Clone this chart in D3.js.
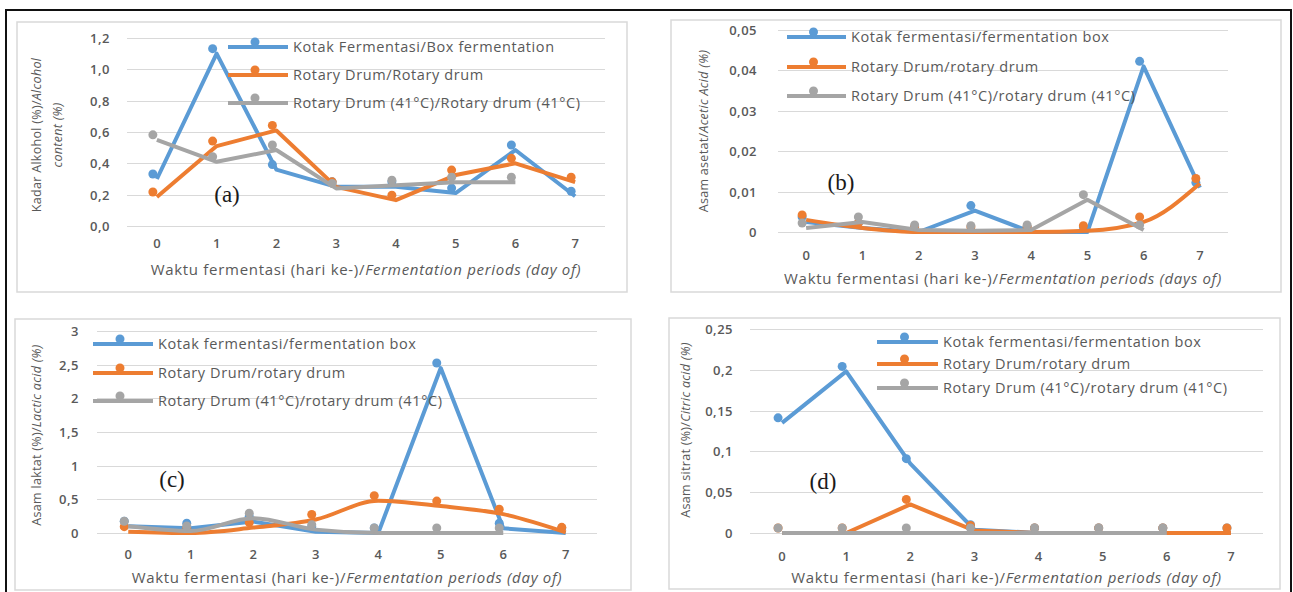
<!DOCTYPE html>
<meta charset="utf-8">
<head>
<script src="https://d3js.org/d3.v7.min.js"></script>
<style>
  body { margin: 0; background: #fff; }
  text { font-family: "Open Sans", sans-serif; fill: #595959; }
</style>
</head>
<body>
<svg id="fig" width="1293" height="592"></svg>
<script>
// days of fermentation
var days = [0, 1, 2, 3, 4, 5, 6, 7];

// (a) alcohol content (%)
var alcoholBox    = [0.30, 1.10, 0.36, 0.25, 0.25, 0.21, 0.485, 0.19];
var alcoholDrum   = [0.185, 0.51, 0.61, 0.25, 0.165, 0.325, 0.40, 0.28];
var alcoholDrum41 = [0.55, 0.41, 0.485, 0.24, 0.26, 0.28, 0.28, null];

// (b) acetic acid (%)
var aceticBox    = [0.0025, 0.001, 0, 0.0053, 0, 0, 0.041, 0.011];
var aceticDrum   = [0.003, 0.001, 0, 0, 0, 0.0003, 0.0025, 0.012];
var aceticDrum41 = [0.001, 0.0025, 0.0005, 0.0003, 0.0005, 0.008, 0.0005, null];

// (c) lactic acid (%)
var lacticBox    = [0.10, 0.07, 0.17, 0.02, 0, 2.45, 0.07, 0];
var lacticDrum   = [0.02, 0, 0.08, 0.20, 0.48, 0.40, 0.28, 0.01];
var lacticDrum41 = [0.10, 0.03, 0.22, 0.05, 0, 0, 0, null];

// (d) citric acid (%)
var citricBox    = [0.135, 0.198, 0.085, 0.004, 0, 0, 0, 0];
var citricDrum   = [0, 0, 0.035, 0.003, 0, 0, 0, 0];
var citricDrum41 = [0, 0, 0, 0, 0, 0, 0, null];

// tick labels
var ticksA = ["0,0", "0,2", "0,4", "0,6", "0,8", "1,0", "1,2"];
var ticksB = ["0", "0,01", "0,02", "0,03", "0,04", "0,05"];
var ticksC = ["0", "0,5", "1", "1,5", "2", "2,5", "3"];
var ticksD = ["0", "0,05", "0,1", "0,15", "0,2", "0,25"];

var legendA = ["Kotak Fermentasi/Box fermentation", "Rotary Drum/Rotary drum", "Rotary Drum (41\u00b0C)/Rotary drum (41\u00b0C)"];
var legendB = ["Kotak fermentasi/fermentation box", "Rotary Drum/rotary drum", "Rotary Drum (41\u00b0C)/rotary drum (41\u00b0C)"];

var colors = ["#5b9bd5", "#ed7d31", "#a5a5a5"];

var svg = d3.select("#fig");

// outer black frame
svg.append("rect")
  .attr("x", 6).attr("y", 10)
  .attr("width", 1285).attr("height", 620)
  .attr("fill", "none").attr("stroke", "#111").attr("stroke-width", 2);

var panels = [
  { box: [17, 22, 610, 270], x: [127, 605], y: [226, 38], max: 1.2, step: 0.2, ticks: ticksA,
    series: [alcoholBox, alcoholDrum, alcoholDrum41], smooth: [false, false, false],
    legend: legendA, leg: { x1: 228, x2: 288, ys: [47, 75, 103] },
    tag: "(a)", tagPos: [227, 202], tickX: 110, xLabY: 248, titleY: 275,
    xTitleEnd: "Fermentation periods (day of)",
    yTitle: [["Kadar Alkohol (%)/", "Alcohol"], ["", "content (%)"]], yTitleX: [41, 62], yTitleY: 135 },
  { box: [671, 20, 610, 272], x: [778, 1228], y: [232, 30], max: 0.05, step: 0.01, ticks: ticksB,
    series: [aceticBox, aceticDrum, aceticDrum41], smooth: [false, true, false],
    legend: legendB, leg: { x1: 787, x2: 846, ys: [37, 67, 96] },
    tag: "(b)", tagPos: [841, 190], tickX: 757, xLabY: 260, titleY: 284,
    xTitleEnd: "Fermentation periods (days of)",
    yTitle: [["Asam asetat/", "Acetic Acid (%)"]], yTitleX: [708], yTitleY: 131 },
  { box: [15, 319, 616, 271], x: [97, 597], y: [533, 331], max: 3, step: 0.5, ticks: ticksC,
    series: [lacticBox, lacticDrum, lacticDrum41], smooth: [false, true, true],
    legend: legendB, leg: { x1: 93, x2: 153, ys: [344, 373, 401] },
    tag: "(c)", tagPos: [172, 487], tickX: 79, xLabY: 559, titleY: 583,
    xTitleEnd: "Fermentation periods (day of)",
    yTitle: [["Asam laktat (%)/", "Lactic acid (%)"]], yTitleX: [41], yTitleY: 435 },
  { box: [669, 318, 611, 271], x: [750, 1263], y: [533, 329], max: 0.25, step: 0.05, ticks: ticksD,
    series: [citricBox, citricDrum, citricDrum41], smooth: [false, false, false],
    legend: legendB, leg: { x1: 877, x2: 938, ys: [342, 364, 388] },
    tag: "(d)", tagPos: [823, 489], tickX: 733, xLabY: 561, titleY: 583,
    xTitleEnd: "Fermentation periods (day of)",
    yTitle: [["Asam sitrat (%)/", "Citric acid (%)"]], yTitleX: [690], yTitleY: 430 }
];

panels.forEach(function (p) {
  var g = svg.append("g");

  // chart area border
  g.append("rect")
    .attr("x", p.box[0]).attr("y", p.box[1])
    .attr("width", p.box[2]).attr("height", p.box[3])
    .attr("fill", "#fff").attr("stroke", "#d9d9d9").attr("stroke-width", 1.5);

  var x = d3.scalePoint().domain(days).range(p.x).padding(0.5);
  var y = d3.scaleLinear().domain([0, p.max]).range(p.y);
  var tickVals = p.ticks.map(function (t, i) { return i * p.step; });

  // gridlines
  g.selectAll(".grid").data(tickVals).enter().append("line")
    .attr("x1", p.x[0]).attr("x2", p.x[1])
    .attr("y1", function (d) { return Math.round(y(d)) + 0.5; })
    .attr("y2", function (d) { return Math.round(y(d)) + 0.5; })
    .attr("stroke", "#d9d9d9").attr("stroke-width", 1);

  // y tick labels
  g.selectAll(".ytick").data(tickVals).enter().append("text")
    .attr("x", p.tickX).attr("y", function (d) { return y(d) + 5; })
    .attr("text-anchor", "end").attr("font-size", 13).attr("font-weight", 600)
    .attr("letter-spacing", 0.5)
    .text(function (d, i) { return p.ticks[i]; });

  // x tick labels
  g.selectAll(".xtick").data(days).enter().append("text")
    .attr("x", function (d) { return x(d); }).attr("y", p.xLabY)
    .attr("text-anchor", "middle").attr("font-size", 13).attr("font-weight", 600)
    .text(function (d) { return d; });

  // x axis title
  var xt = g.append("text")
    .attr("x", (p.x[0] + p.x[1]) / 2).attr("y", p.titleY)
    .attr("text-anchor", "middle").attr("font-size", 15).attr("letter-spacing", 0.7);
  xt.append("tspan").text("Waktu fermentasi (hari ke-)/");
  xt.append("tspan").attr("font-style", "italic").text(p.xTitleEnd);

  // y axis title
  p.yTitle.forEach(function (parts, k) {
    var yt = g.append("text")
      .attr("transform", "translate(" + p.yTitleX[k] + "," + p.yTitleY + ") rotate(-90)")
      .attr("text-anchor", "middle").attr("font-size", 12.5).attr("letter-spacing", 0.3);
    if (parts[0]) yt.append("tspan").text(parts[0]);
    yt.append("tspan").attr("font-style", "italic").text(parts[1]);
  });

  // series
  p.series.forEach(function (vals, s) {
    var pts = days.map(function (d, i) { return { d: d, v: vals[i] }; })
      .filter(function (o) { return o.v !== null; });
    var line = d3.line()
      .x(function (o) { return x(o.d); })
      .y(function (o) { return y(o.v); })
      .curve(p.smooth[s] ? d3.curveMonotoneX : d3.curveLinear);
    g.append("path").datum(pts)
      .attr("d", line)
      .attr("fill", "none").attr("stroke", colors[s])
      .attr("stroke-width", 4).attr("stroke-linejoin", "round");
    g.append("g").attr("transform", "translate(-4,-5)")
      .selectAll("circle").data(pts).enter().append("circle")
      .attr("cx", function (o) { return x(o.d); })
      .attr("cy", function (o) { return y(o.v); })
      .attr("r", 4.5).attr("fill", colors[s]);
  });

  // legend
  p.legend.forEach(function (label, s) {
    var ly = p.leg.ys[s];
    g.append("line")
      .attr("x1", p.leg.x1).attr("x2", p.leg.x2)
      .attr("y1", ly).attr("y2", ly)
      .attr("stroke", colors[s]).attr("stroke-width", 4);
    g.append("circle")
      .attr("cx", (p.leg.x1 + p.leg.x2) / 2 - 3).attr("cy", ly - 5)
      .attr("r", 4.5).attr("fill", colors[s]);
    g.append("text")
      .attr("x", p.leg.x2 + 5).attr("y", ly + 5)
      .attr("font-size", 14.5).attr("letter-spacing", 0.6)
      .text(label);
  });

  // panel tag
  g.append("text")
    .attr("x", p.tagPos[0]).attr("y", p.tagPos[1])
    .attr("text-anchor", "middle")
    .style("font-family", "'Liberation Serif', 'DejaVu Serif', serif")
    .style("font-size", "23px").style("fill", "#1a1a1a")
    .text(p.tag);
});
</script>
</body>
</html>
